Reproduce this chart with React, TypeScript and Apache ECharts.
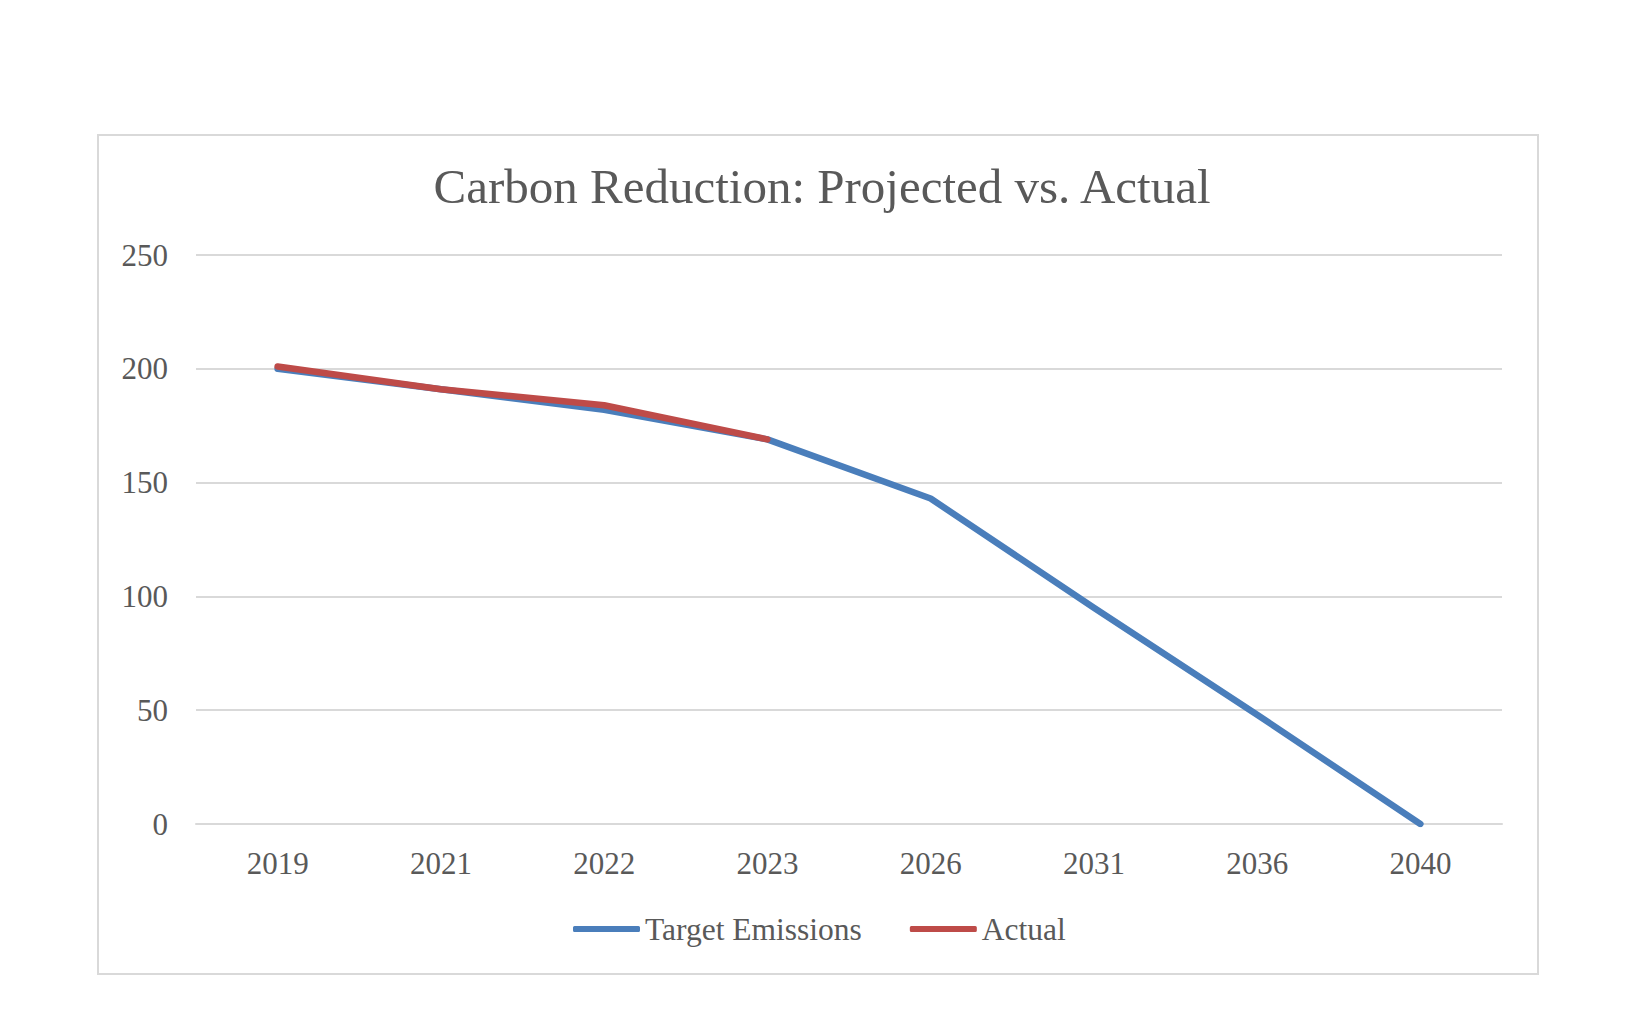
import React, { useEffect, useRef } from "react";
import * as echarts from "echarts";

const years = ["2019", "2021", "2022", "2023", "2026", "2031", "2036", "2040"];
const targetEmissions = [200, 191, 182, 169, 143, 95, 48, 0];
const actual = [201, 191, 184, 169, null, null, null, null];
const yTicks = { min: 0, max: 250, interval: 50 };

const FONT = "'Liberation Serif', serif";
const TEXT = "#595959";

export default function App() {
  const ref = useRef<HTMLDivElement>(null);
  useEffect(() => {
    const chart = echarts.init(ref.current!, null, { renderer: "svg" });
    chart.setOption({
      animation: false,
      backgroundColor: "#ffffff",
      title: {
        text: "Carbon Reduction: Projected vs. Actual",
        left: 817,
        textAlign: "center",
        top: 157,
        textStyle: { fontFamily: FONT, fontSize: 49, fontWeight: "normal", color: TEXT },
      },
      graphic: [
        {
          type: "rect",
          shape: { x: 98, y: 135, width: 1440, height: 839 },
          style: { fill: "none", stroke: "#D9D9D9", lineWidth: 2 },
          silent: true,
        },
      ],
      legend: {
        left: 568,
        top: 908,
        itemWidth: 67,
        itemHeight: 6,
        itemGap: 48,
        icon: "roundRect",
        textStyle: { fontFamily: FONT, fontSize: 31.5, color: TEXT },
        data: ["Target Emissions", "Actual"],
      },
      grid: { left: 196, right: 143, top: 255, bottom: 189 },
      xAxis: {
        type: "category",
        data: years,
        boundaryGap: true,
        axisLine: { show: true, lineStyle: { color: "#D9D9D9", width: 2 } },
        axisTick: { show: false },
        axisLabel: { fontFamily: FONT, fontSize: 31, color: TEXT, margin: 24 },
      },
      yAxis: {
        type: "value",
        min: yTicks.min,
        max: yTicks.max,
        interval: yTicks.interval,
        axisLine: { show: false },
        axisTick: { show: false },
        splitLine: { lineStyle: { color: "#D9D9D9", width: 2 } },
        axisLabel: { fontFamily: FONT, fontSize: 31, color: TEXT, margin: 28 },
      },
      series: [
        {
          name: "Target Emissions",
          type: "line",
          data: targetEmissions,
          showSymbol: false,
          symbol: "none",
          itemStyle: { color: "#4A7EBB" },
          lineStyle: { color: "#4A7EBB", width: 6.5, cap: "round", join: "round" },
          z: 2,
        },
        {
          name: "Actual",
          type: "line",
          data: actual,
          showSymbol: false,
          symbol: "none",
          itemStyle: { color: "#BE4B48" },
          lineStyle: { color: "#BE4B48", width: 6.5, cap: "round", join: "round" },
          z: 3,
        },
      ],
    });
    return () => chart.dispose();
  }, []);
  return (
    <div
      ref={ref}
      style={{ position: "fixed", left: 0, top: 0, width: 1645, height: 1013, background: "#fff" }}
    />
  );
}
